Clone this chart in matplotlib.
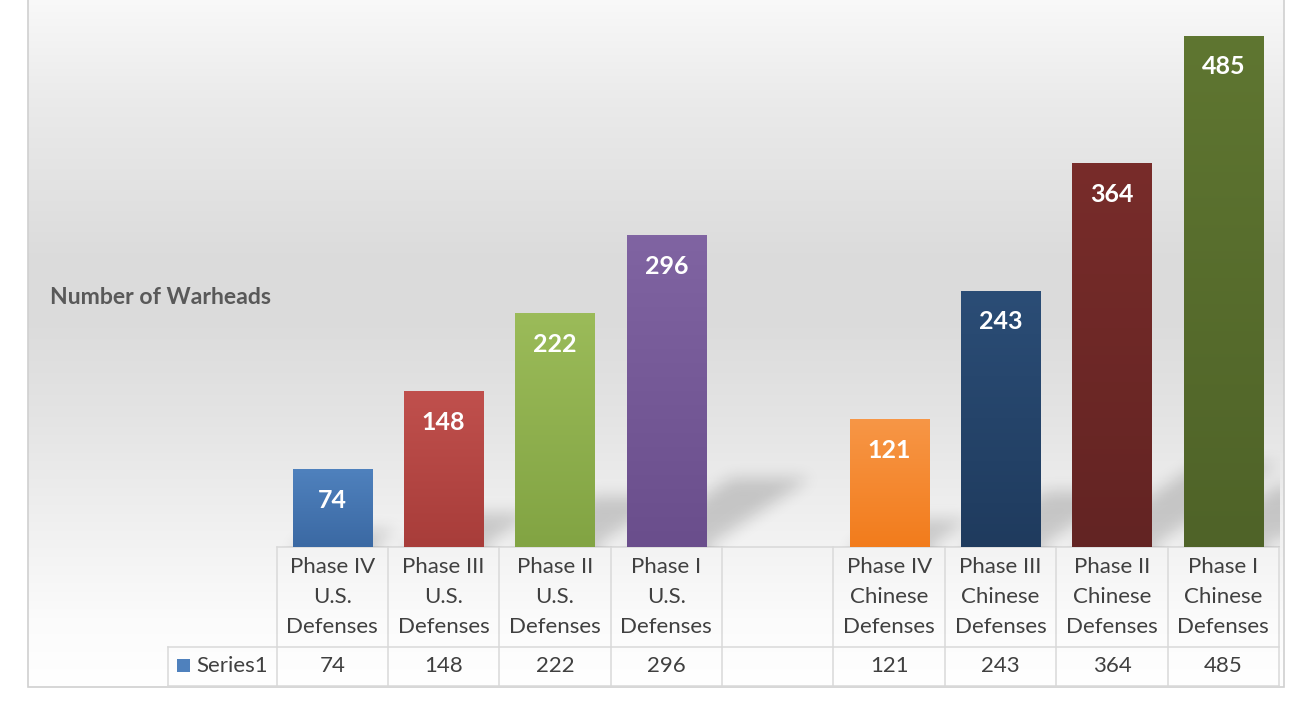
import numpy as np
import matplotlib.pyplot as plt
from matplotlib.path import Path
from matplotlib.patches import Rectangle
from matplotlib.transforms import blended_transform_factory

plt.rcParams['font.family'] = ['Lato', 'DejaVu Sans']

# Data
categories = [
    "Phase IV\nU.S.\nDefenses", "Phase III\nU.S.\nDefenses",
    "Phase II\nU.S.\nDefenses", "Phase I\nU.S.\nDefenses",
    "",
    "Phase IV\nChinese\nDefenses", "Phase III\nChinese\nDefenses",
    "Phase II\nChinese\nDefenses", "Phase I\nChinese\nDefenses",
]
values = [74, 148, 222, 296, np.nan, 121, 243, 364, 485]
series_name = "Series1"
axis_label = "Number of Warheads"
top_colors = ['#4f81bd', '#c0504d', '#9bbb59', '#8064a2', '#ffffff',
              '#f79646', '#2b4d76', '#782c2a', '#5f7631']
bottom_colors = ['#3b69a3', '#a83d3a', '#82a443', '#6a4e8c', '#ffffff',
                 '#f27c1c', '#1f3b5e', '#632423', '#4f6328']

# Layout (pixels)
W, H = 1310, 716
plot_l, plot_r, plot_b, plot_t = 276.5, 1279, 547, 20
ymax = 500
bar_w = 0.71
text_col = '#404040'
grid_col = '#d9d9d9'


def fx(px):
    return px / W


def fy(py):
    return 1 - py / H


def to_rgb(c):
    return np.array([int(c[i:i + 2], 16) for i in (1, 3, 5)]) / 255.0


def blur1d(a, r, axis):
    a = np.moveaxis(a, axis, 0)
    p = np.pad(a, ((r + 1, r), (0, 0)), mode='edge')
    c = np.cumsum(p, axis=0)
    out = (c[2 * r + 1:] - c[:-2 * r - 1]) / (2 * r + 1)
    return np.moveaxis(out, 0, axis)


fig = plt.figure(figsize=(W / 100, H / 100), dpi=100)
fig.patch.set_facecolor('white')

# Background (pixel coordinates)
bg = fig.add_axes([0, 0, 1, 1])
bg.set_xlim(0, W)
bg.set_ylim(H, 0)
bg.axis('off')
stops_y = [0, 100, 260, 320, 420, 520, 620, 687]
stops_v = [0.975, 0.92, 0.86, 0.86, 0.895, 0.94, 0.985, 1.0]
yy = np.arange(0, 688)
grad = np.interp(yy, stops_y, stops_v)
bg.imshow(np.repeat(grad[:, None, None], 3, axis=2) * np.ones((1, 2, 1)),
          extent=(28, 1284, 687, 0), aspect='auto', interpolation='bilinear')
bg.add_patch(Rectangle((28, -2), 1256, 689, fill=False, edgecolor='#d0d0d0', lw=1.2))
bg.set_xlim(0, W)
bg.set_ylim(H, 0)

bg.text(50, 297, axis_label, fontsize=16.6, fontweight='bold', color='#595959',
        ha='left', va='center')

# Main axes
ax = fig.add_axes([fx(plot_l), fy(plot_b), fx(plot_r) - fx(plot_l), fy(plot_t) - fy(plot_b)])
ax.patch.set_visible(False)
n = len(categories)
pos = np.arange(n)
ax.set_xlim(-0.5, n - 0.5)
ax.set_ylim(0, ymax)
ax.axis('off')

# Shadows behind the bars
ppx = (plot_r - plot_l) / n
ppy = (plot_b - plot_t) / ymax
nx, ny = int(plot_r - plot_l), int(plot_b - plot_t)
gx, gy = np.meshgrid(np.arange(nx) + 0.5, np.arange(ny) + 0.5)
pts = np.column_stack([gx.ravel(), gy.ravel()])
shadow = np.zeros(gx.shape)
for p, v in zip(pos, values):
    if np.isnan(v):
        continue
    hp = v * ppy
    x0 = (p + 0.5 - bar_w / 2) * ppx
    x1 = (p + 0.5 + bar_w / 2) * ppx
    dx, dy = 0.33 * hp, 0.22 * hp
    poly = Path([(x0, 0), (x1, 0), (x1 + dx, dy), (x0 + dx, dy), (x0, 0)])
    m = poly.contains_points(pts).reshape(gx.shape)
    shadow = np.maximum(shadow, m * 1.0)
for _ in range(3):
    shadow = blur1d(blur1d(shadow, 7, 0), 7, 1)
rgba = np.zeros((ny, nx, 4))
rgba[..., 3] = 0.17 * shadow
ax.imshow(rgba, origin='lower', extent=(-0.5, n - 0.5, 0, ymax), aspect='auto', zorder=1)

# Bars with vertical gradient
for p, v, ct, cb in zip(pos, values, top_colors, bottom_colors):
    if np.isnan(v):
        continue
    bar = ax.bar(p, v, width=bar_w, color=ct, zorder=2)[0]
    t = np.linspace(0, 1, 64)[:, None]
    g = (1 - t) * to_rgb(ct) + t * to_rgb(cb)
    im = ax.imshow(g[:, None, :], extent=(p - bar_w / 2, p + bar_w / 2, 0, v),
                   aspect='auto', zorder=3, interpolation='bilinear')
    im.set_clip_path(bar)
    ax.annotate(f"{v:g}", (p, v), xytext=(0, -31), textcoords='offset pixels',
                ha='center', va='center', color='white', fontsize=18,
                fontweight='bold', zorder=4)
ax.set_xlim(-0.5, n - 0.5)
ax.set_ylim(0, ymax)

# Data table
tr = blended_transform_factory(ax.transData, bg.transData)
hdr_l = -0.5 - (plot_l - 168) / ppx
kw = dict(color=grid_col, lw=1.1, transform=tr, clip_on=False)
bg.plot([-0.5, n - 0.5], [547, 547], **kw)
bg.plot([hdr_l, n - 0.5], [647, 647], **kw)
bg.plot([hdr_l, n - 0.5], [686, 686], **kw)
bg.plot([hdr_l, hdr_l], [647, 686], **kw)
for b in np.arange(n + 1) - 0.5:
    bg.plot([b, b], [547, 686], **kw)

for p, lab, v in zip(pos, categories, values):
    for k, line in enumerate(lab.split('\n')):
        bg.text(p, 567 + 30 * k, line, transform=tr, ha='center', va='center',
                fontsize=16, color=text_col)
    if not np.isnan(v):
        bg.text(p, 666, f"{v:g}", transform=tr, ha='center', va='center',
                fontsize=16, color=text_col)

bg.add_patch(Rectangle((177, 659), 13, 13, facecolor=top_colors[0], edgecolor='none'))
bg.text(196, 666, series_name, ha='left', va='center', fontsize=16, color=text_col)

fig.savefig('out.png', dpi=100)
